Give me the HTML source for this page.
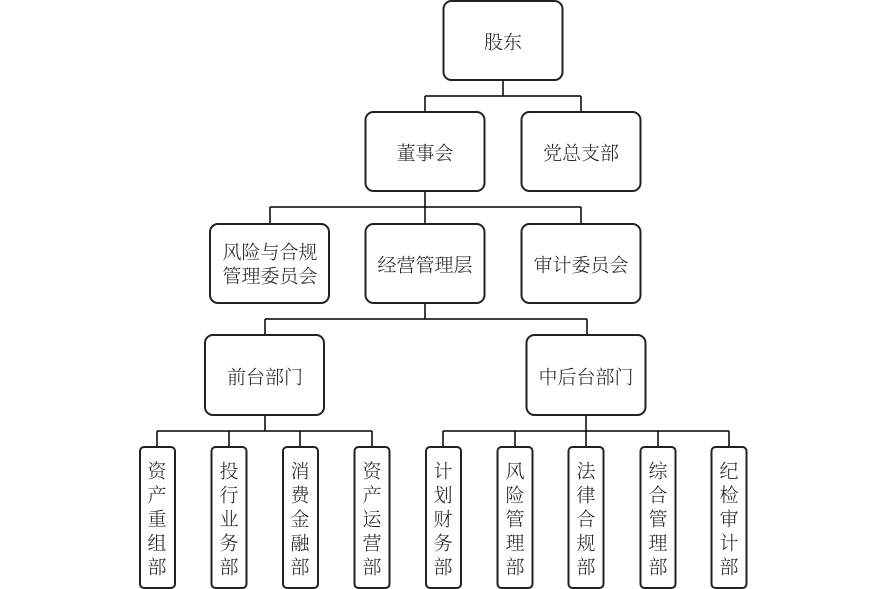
<!DOCTYPE html>
<html><head><meta charset="utf-8"><style>
html,body{margin:0;padding:0;background:#fff;}
svg{display:block;}
text{font-family:"Noto Serif CJK SC","Liberation Serif",serif;font-size:19px;font-weight:300;fill:#222;text-anchor:middle;dominant-baseline:central;}
</style></head><body>
<svg width="887" height="589" viewBox="0 0 887 589" xmlns="http://www.w3.org/2000/svg">
<g fill="none" stroke="#000" stroke-width="1.5">
<path d="M503 80V96M425 96H581M425 96V112M581 96V112"/>
<path d="M425 191V207M270 207H581M270 207V224M425 207V224M581 207V224"/>
<path d="M425 303V319M265 319H587M265 319V335M587 319V335"/>
<path d="M265 415V431M157 431H372M157 431V447M229 431V447M300 431V447M372 431V447"/>
<path d="M586 415V431M443 431H729M443 431V447M515 431V447M586 431V447M658 431V447M729 431V447"/>
</g>
<g fill="#fff" stroke="#222" stroke-width="2">
<rect x="443.5" y="1" width="119" height="79" rx="8"/>
<rect x="365.5" y="112" width="119" height="79" rx="8"/>
<rect x="521.5" y="112" width="119" height="79" rx="8"/>
<rect x="210" y="224" width="119" height="79" rx="8"/>
<rect x="365.5" y="224" width="119" height="79" rx="8"/>
<rect x="521.5" y="224" width="119" height="79" rx="8"/>
<rect x="205" y="335" width="119" height="80" rx="8"/>
<rect x="526.5" y="335" width="119" height="80" rx="8"/>
<rect x="140" y="447" width="35" height="141" rx="4"/>
<rect x="211.5" y="447" width="35" height="141" rx="4"/>
<rect x="283" y="447" width="35" height="141" rx="4"/>
<rect x="354.5" y="447" width="35" height="141" rx="4"/>
<rect x="426" y="447" width="35" height="141" rx="4"/>
<rect x="497.5" y="447" width="35" height="141" rx="4"/>
<rect x="568.5" y="447" width="35" height="141" rx="4"/>
<rect x="640.5" y="447" width="35" height="141" rx="4"/>
<rect x="711.5" y="447" width="35" height="141" rx="4"/>
</g>
<text x="503" y="41">股东</text>
<text x="425" y="152">董事会</text>
<text x="581" y="152">党总支部</text>
<text x="270" y="251">风险与合规</text>
<text x="270" y="275">管理委员会</text>
<text x="425" y="264">经营管理层</text>
<text x="581" y="264">审计委员会</text>
<text x="265" y="376">前台部门</text>
<text x="586" y="376">中后台部门</text>
<g>
<text x="157" y="470">资</text><text x="157" y="494">产</text><text x="157" y="518">重</text><text x="157" y="542">组</text><text x="157" y="566">部</text>
<text x="229" y="470">投</text><text x="229" y="494">行</text><text x="229" y="518">业</text><text x="229" y="542">务</text><text x="229" y="566">部</text>
<text x="300" y="470">消</text><text x="300" y="494">费</text><text x="300" y="518">金</text><text x="300" y="542">融</text><text x="300" y="566">部</text>
<text x="372" y="470">资</text><text x="372" y="494">产</text><text x="372" y="518">运</text><text x="372" y="542">营</text><text x="372" y="566">部</text>
<text x="443" y="470">计</text><text x="443" y="494">划</text><text x="443" y="518">财</text><text x="443" y="542">务</text><text x="443" y="566">部</text>
<text x="515" y="470">风</text><text x="515" y="494">险</text><text x="515" y="518">管</text><text x="515" y="542">理</text><text x="515" y="566">部</text>
<text x="586" y="470">法</text><text x="586" y="494">律</text><text x="586" y="518">合</text><text x="586" y="542">规</text><text x="586" y="566">部</text>
<text x="658" y="470">综</text><text x="658" y="494">合</text><text x="658" y="518">管</text><text x="658" y="542">理</text><text x="658" y="566">部</text>
<text x="729" y="470">纪</text><text x="729" y="494">检</text><text x="729" y="518">审</text><text x="729" y="542">计</text><text x="729" y="566">部</text>
</g>
</svg>
</body></html>
